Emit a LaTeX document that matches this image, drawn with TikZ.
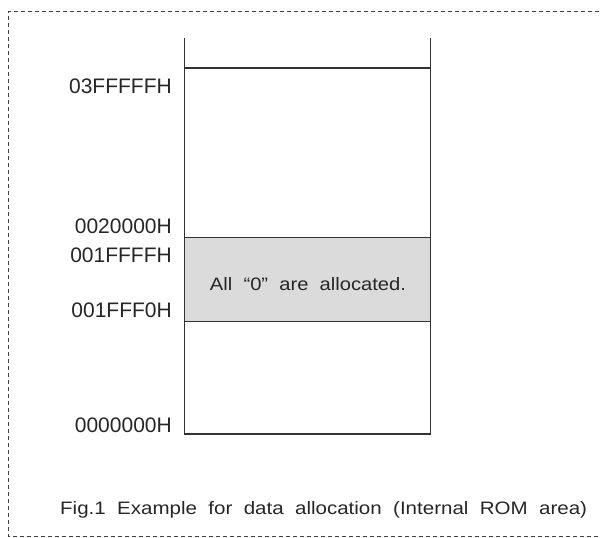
\documentclass[tikz,border=0pt]{standalone}
\usepackage{fontspec}
\setmainfont{Liberation Sans}
\begin{document}
\begin{tikzpicture}[x=1pt,y=-1pt,
  memline/.style={draw=black!80,line width=1.5pt},
  membox/.style={memline,minimum width=246pt,inner sep=0pt,outer sep=0pt,anchor=north west},
  addr/.style={anchor=base east,inner sep=0pt,font=\fontsize{21}{21}\selectfont,text=black!85},
  frame/.style={draw=black!75,line width=0.9pt,dash pattern=on 4pt off 3pt}]
\useasboundingbox (0,0) rectangle (600,538);
% dashed frame
\draw[frame] (606,11.5) -- (8.5,11.5) -- (8.5,536.5) -- (606,536.5);
% memory map
\node[membox,minimum height=366pt] (rom) at (184.5,68) {};
\node[membox,fill=black!14,minimum height=84pt] (zero) at (184.5,237.5) {};
\node[anchor=base,inner sep=0pt,font=\fontsize{18}{18}\selectfont,text=black!85] (zt) at (308,290) {\scalebox{1.12}[1]{All~ “0”~ are~ allocated.}};
\coordinate (tl) at (184.5,38);
\coordinate (tr) at (430.5,38);
\draw[memline] (rom.north west) -- (tl);
\draw[memline] (rom.north east) -- (tr);
% address labels
\node[addr] (a1) at (172,93) {03FFFFFH};
\node[addr] (a2) at (172,233) {0020000H};
\node[addr] (a3) at (172,262) {001FFFFH};
\node[addr] (a4) at (172,317) {001FFF0H};
\node[addr] (a5) at (172,432) {0000000H};
% caption
\node[anchor=base west,inner sep=0pt,font=\fontsize{18}{18}\selectfont,text=black!85] (cap) at (60,514) {\scalebox{1.14}[1]{Fig.1~ Example~ for~ data~ allocation~ (Internal~ ROM~ area)}};
\end{tikzpicture}
\end{document}
